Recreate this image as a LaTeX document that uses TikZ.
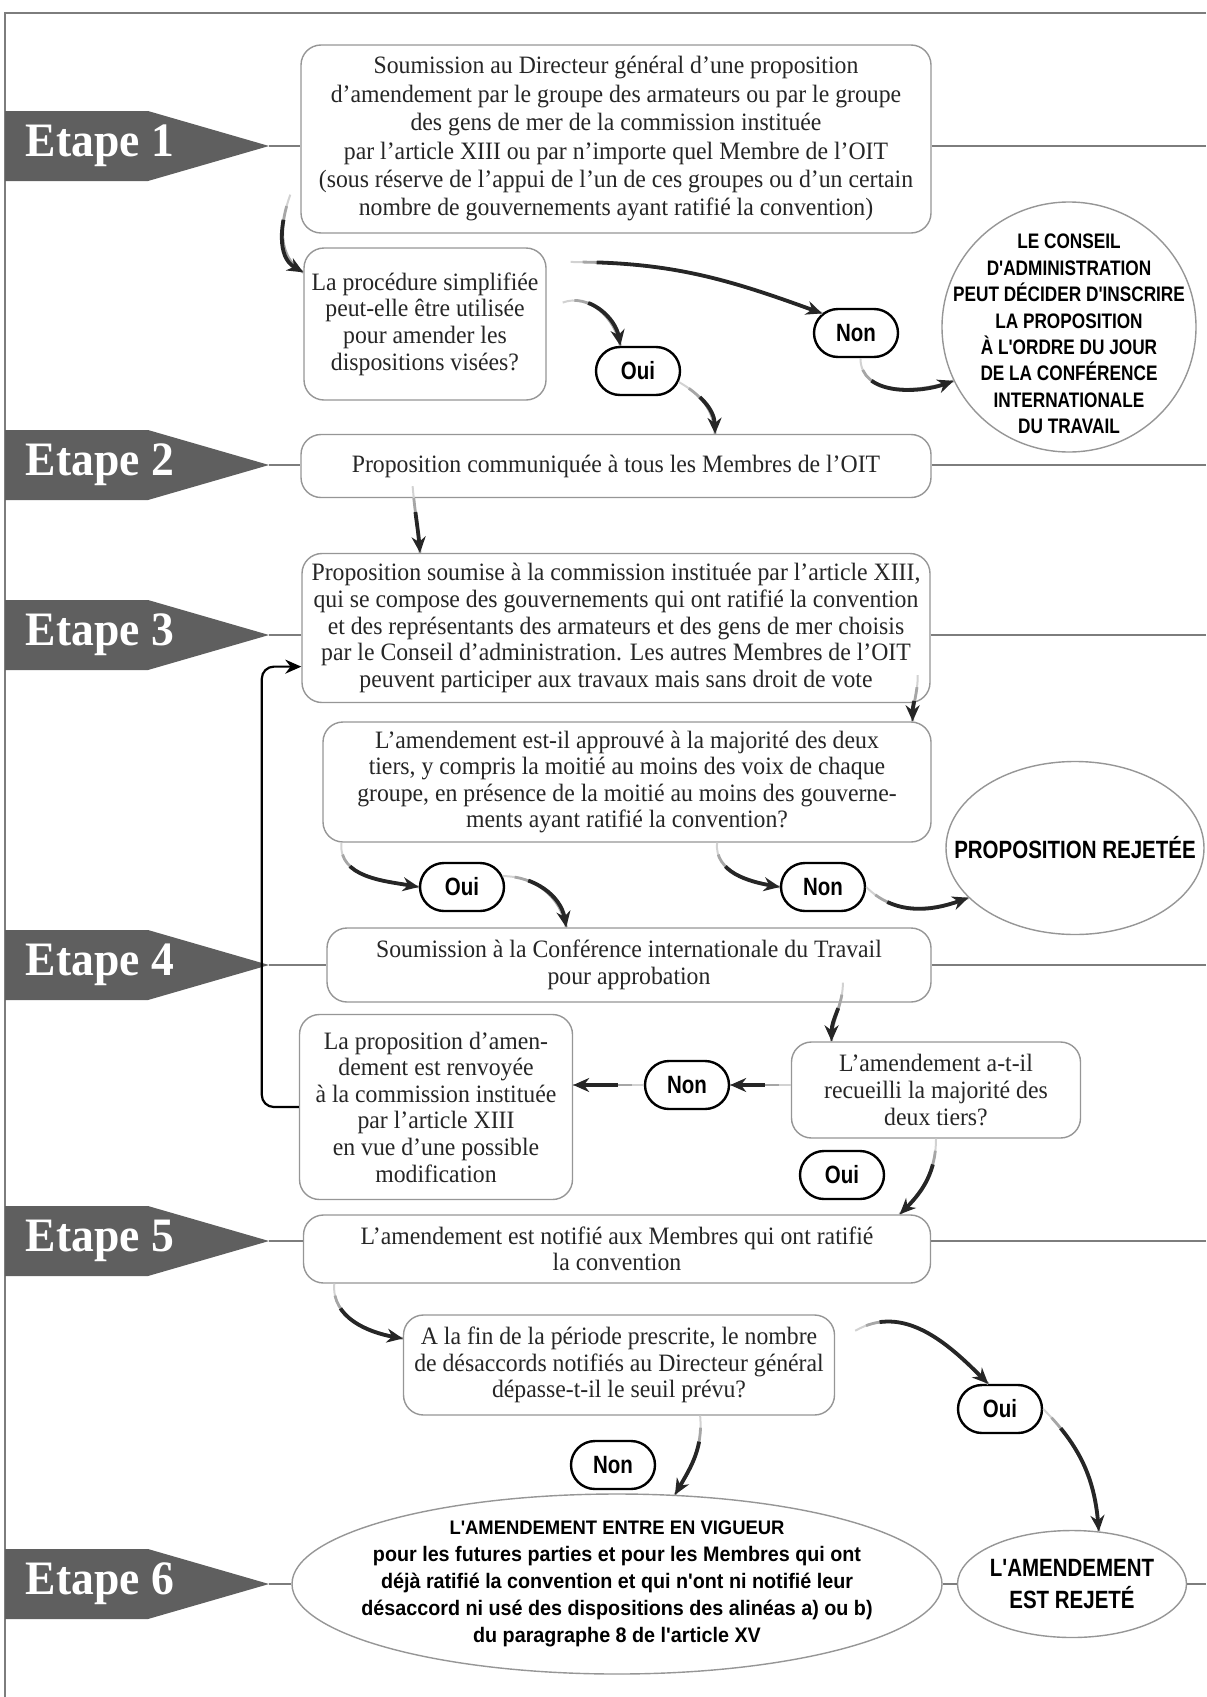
\documentclass[tikz,border=0pt]{standalone}
\usepackage{fontspec}
\setmainfont{Liberation Serif}[FakeStretch=0.95]
\newfontfamily\etroit{Liberation Sans}[FakeStretch=0.82]
\newfontfamily\demietroit{Liberation Sans}[FakeStretch=0.94]
\usetikzlibrary{arrows.meta,shapes.geometric,shapes.misc}
\definecolor{bandeau}{RGB}{95,95,95}
\definecolor{grisfilet}{RGB}{125,125,125}
\definecolor{grisbord}{RGB}{150,150,150}
\begin{document}
\begin{tikzpicture}[x=0.5pt,y=0.5pt,>={Stealth[length=8pt,width=7pt]},
		boite/.style={draw=grisbord, line width=0.7pt, rounded corners=10pt, fill=white, align=center, inner sep=0pt, text=black!85, font=\fontsize{12.5}{13.3}\selectfont},
		ouinon/.style={rounded rectangle, draw, line width=1.2pt, fill=white, minimum width=42pt, minimum height=24pt, inner sep=0pt, font=\etroit\bfseries\fontsize{12.5}{14}\selectfont},
		rond/.style={ellipse, draw=grisbord, line width=0.7pt, fill=white, inner sep=0pt},
		majus/.style={align=center, inner sep=0pt, font=\etroit\bfseries\fontsize{10.5}{13.2}\selectfont},
		etape/.style={text=white, font=\bfseries\fontsize{24}{24}\selectfont},
		filet/.style={draw=grisfilet, line width=1pt},
		fleche/.style={->, draw=black!85, line width=1.9pt, dash pattern=on 0pt off 13pt on 3000pt off 0pt,
			preaction={draw=gray!35, line width=1pt, -, solid},
			preaction={draw=gray!70, line width=1.4pt, -, dash pattern=on 0pt off 6pt on 3000pt off 0pt}},
		boucle/.style={->, draw=black, line width=1.1pt, rounded corners=6pt},
	]
	\def\ouinon(#1)(#2)#3{\node[ouinon] (#1) at (#2) {#3};}
	\useasboundingbox (0,0) rectangle (1206,-1697);
	\coordinate (bord) at (1206,0);
	\draw[grisfilet, line width=1pt] (1206,-13) -- (5,-13) -- (5,-1697);
	\foreach \n/\y in {1/146,2/465,3/635,4/965,5/1241,6/1584}{
		\fill[bandeau] (5,-\y+35) -- (148,-\y+35) -- (269,-\y) -- (148,-\y-35) -- (5,-\y-35) -- cycle;
		\node[etape] (t\n) at (100,-\y) {Etape \n};
		\coordinate (e\n) at (269,-\y);
	}
	\node[boite, minimum width=315pt, minimum height=94pt, font=\fontsize{12.5}{14.2}\selectfont] (b1) at (616,-139) {Soumission au Directeur général d’une proposition\\d’amendement par le groupe des armateurs ou par le groupe\\des gens de mer de la commission instituée\\par l’article XIII ou par n’importe quel Membre de l’OIT\\(sous réserve de l’appui de l’un de ces groupes ou d’un certain\\nombre de gouvernements ayant ratifié la convention)};
	\node[boite, minimum width=121pt, minimum height=76pt] (q1) at (425,-324) {La procédure simplifiée\\peut-elle être utilisée\\pour amender les\\dispositions visées?};
	\ouinon(oui1)(638,-371){Oui}
	\ouinon(non1)(856,-333){Non}
	\node[rond, minimum width=127pt, minimum height=125pt, label={[majus, yshift=-3.5pt]center:{LE CONSEIL\\D'ADMINISTRATION\\PEUT DÉCIDER D'INSCRIRE\\LA PROPOSITION\\À L'ORDRE DU JOUR\\DE LA CONFÉRENCE\\INTERNATIONALE\\DU TRAVAIL}}] (cons) at (1069,-327) {};
	\node[boite, minimum width=315pt, minimum height=31.5pt] (b2) at (616,-466) {Proposition communiquée à tous les Membres de l’OIT};
	\node[boite, minimum width=314pt, minimum height=74.5pt] (b3) at (616,-628) {Proposition soumise à la commission instituée par l’article XIII,\\qui se compose des gouvernements qui ont ratifié la convention\\et des représentants des armateurs et des gens de mer choisis\\par le Conseil d’administration. Les autres Membres de l’OIT\\peuvent participer aux travaux mais sans droit de vote};
	\node[boite, minimum width=304pt, minimum height=60pt] (q2) at (627,-782) {L’amendement est-il approuvé à la majorité des deux\\tiers, y compris la moitié au moins des voix de chaque\\groupe, en présence de la moitié au moins des gouverne-\\ments ayant ratifié la convention?};
	\ouinon(oui2)(462,-887){Oui}
	\ouinon(non2)(823,-887){Non}
	\node[rond, minimum width=129pt, minimum height=86.5pt, label={[majus, font=\etroit\bfseries\fontsize{12.5}{14}\selectfont]center:PROPOSITION REJETÉE}] (rejp) at (1075,-848) {};
	\node[boite, minimum width=302pt, minimum height=37pt] (b4) at (629,-965) {Soumission à la Conférence internationale du Travail\\pour approbation};
	\node[boite, minimum width=136.5pt, minimum height=92.5pt] (q3) at (436,-1107) {La proposition d’amen-\\dement est renvoyée\\à la commission instituée\\par l’article XIII\\en vue d’une possible\\modification};
	\ouinon(non3)(687,-1085){Non}
	\node[boite, minimum width=144.5pt, minimum height=48pt] (q4) at (936,-1090) {L’amendement a-t-il\\recueilli la majorité des\\deux tiers?};
	\ouinon(oui4)(842,-1175){Oui}
	\node[boite, minimum width=313.5pt, minimum height=34pt] (b5) at (617,-1249) {L’amendement est notifié aux Membres qui ont ratifié\\la convention};
	\node[boite, minimum width=215.5pt, minimum height=50pt] (q5) at (619,-1365) {A la fin de la période prescrite, le nombre\\de désaccords notifiés au Directeur général\\dépasse-t-il le seuil prévu?};
	\ouinon(oui5)(1000,-1409){Oui}
	\ouinon(non5)(613,-1465){Non}
	\node[rond, minimum width=325pt, minimum height=90pt, label={[majus, font=\demietroit\bfseries\fontsize{10.5}{13.5}\selectfont]center:{{\fontsize{9.8}{13.5}\selectfont L'AMENDEMENT ENTRE EN VIGUEUR}\\pour les futures parties et pour les Membres qui ont\\déjà ratifié la convention et qui n'ont ni notifié leur\\désaccord ni usé des dispositions des alinéas a) ou b)\\du paragraphe 8 de l'article XV}}] (vig) at (617,-1584) {};
	\node[rond, minimum width=114.5pt, minimum height=53.5pt, label={[majus, font=\etroit\bfseries\fontsize{12.5}{15.7}\selectfont]center:{L'AMENDEMENT\\EST REJETÉ}}] (rej) at (1072,-1584) {};
	\foreach \n in {1,...,5}{
		\draw[filet] (e\n) -- (e\n -| b\n.west) (e\n -| b\n.east) -- (e\n -| bord);
	}
	\draw[filet] (e6) -- (vig) (vig) -- (rej) (rej) -- (e6 -| bord);
	\draw[fleche] ([xshift=-5pt]b1.190) to[out=250,in=150] (q1.157);
	\draw[fleche] ([xshift=12pt]q1.27) to[out=0,in=160] (non1.150);
	\draw[fleche] ([xshift=8pt]q1.10) to[out=20,in=100] (oui1.125);
	\draw[fleche] (oui1.-15) to[out=-30,in=92] (b2.18);
	\draw[fleche] (non1.-80) to[out=-90,in=200] (cons.205);
	\draw[fleche] ([yshift=6pt]b2.189) to[out=-85,in=95] (b3.159);
	\draw[fleche] ([yshift=14pt]b3.-14) to[out=-90,in=90] (q2.12);
	\draw[fleche] (q2.192) to[out=-95,in=170] (oui2.west);
	\draw[fleche] (oui2.15) to[out=0,in=100] (b4.149);
	\draw[fleche] (q2.-34) to[out=-95,in=170] (non2.west);
	\draw[fleche] (non2.east) to[out=-45,in=200] (rejp.205);
	\draw[fleche] ([yshift=10pt]b4.-10) to[out=-90,in=90] (q4.155);
	\draw[fleche] (q4.west |- non3.east) -- (non3.east);
	\draw[fleche] (non3.west) -- (q3.east |- non3.west);
	\draw[boucle] (q3.west) -- ++(-37,0) |- (b3.187);
	\draw[fleche] (q4.south) to[out=-90,in=45] (b5.7);
	\draw[fleche] (b5.187) to[out=-95,in=170] (q5.173);
	\draw[fleche] ([xshift=10pt]q5.9) to[out=30,in=135] (oui5.115);
	\draw[fleche] (oui5.east) to[out=-45,in=95] (rej.63);
	\draw[fleche] (q5.-32) to[out=-85,in=60] (vig.57);
\end{tikzpicture}
\end{document}
